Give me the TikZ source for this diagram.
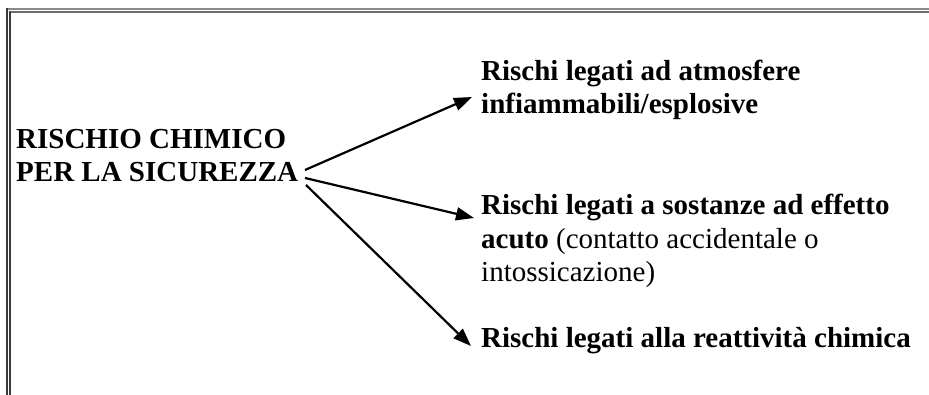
\documentclass[tikz,border=0pt]{standalone}
\usepackage{fontspec}
\setmainfont{Liberation Serif}
\usetikzlibrary{arrows.meta}
\definecolor{bordertop}{HTML}{8A8A8A}
\definecolor{borderleft}{HTML}{3A3A3A}
\begin{document}
\begin{tikzpicture}[x=1pt,y=-1pt,
  txt/.style={inner sep=0pt, anchor=base west, font=\fontsize{29}{33.5}\selectfont, align=left},
  arr/.style={line width=2.2pt, -{Triangle[length=18pt,width=13pt]}}]
\useasboundingbox (0,0) rectangle (929,395);
\fill[white] (0,0) rectangle (929,395);
% border
\draw[bordertop, line width=2pt] (6,9.5) -- (929,9.5);
\draw[bordertop!80!black, line width=2pt] (9,12.5) -- (929,12.5);
\draw[borderleft, line width=2pt] (6.5,8.5) -- (6.5,395);
\draw[borderleft, line width=2pt] (9.5,11.5) -- (9.5,395);
% texts (anchor = baseline of the last line)
\node[txt] (src) at (16,182) {\textbf{RISCHIO CHIMICO}\\\textbf{PER LA SICUREZZA}};
\node[txt] (r1) at (481,114) {\textbf{Rischi legati ad atmosfere}\\\textbf{infiammabili/esplosive}};
\node[txt] (r2) at (481,282) {\textbf{Rischi legati a sostanze ad effetto}\\\textbf{acuto} (contatto accidentale o\\intossicazione)};
\node[txt] (r3) at (481,348) {\textbf{Rischi legati alla reattività chimica}};
% connector ends
\coordinate (s1) at (305,170);
\coordinate (s2) at (305,178);
\coordinate (s3) at (306,185);
\coordinate (t1) at (472,97);
\coordinate (t2) at (474,218);
\coordinate (t3) at (471,346);
\draw[arr] (s1) -- (t1);
\draw[arr] (s2) -- (t2);
\draw[arr] (s3) -- (t3);
\end{tikzpicture}
\end{document}
